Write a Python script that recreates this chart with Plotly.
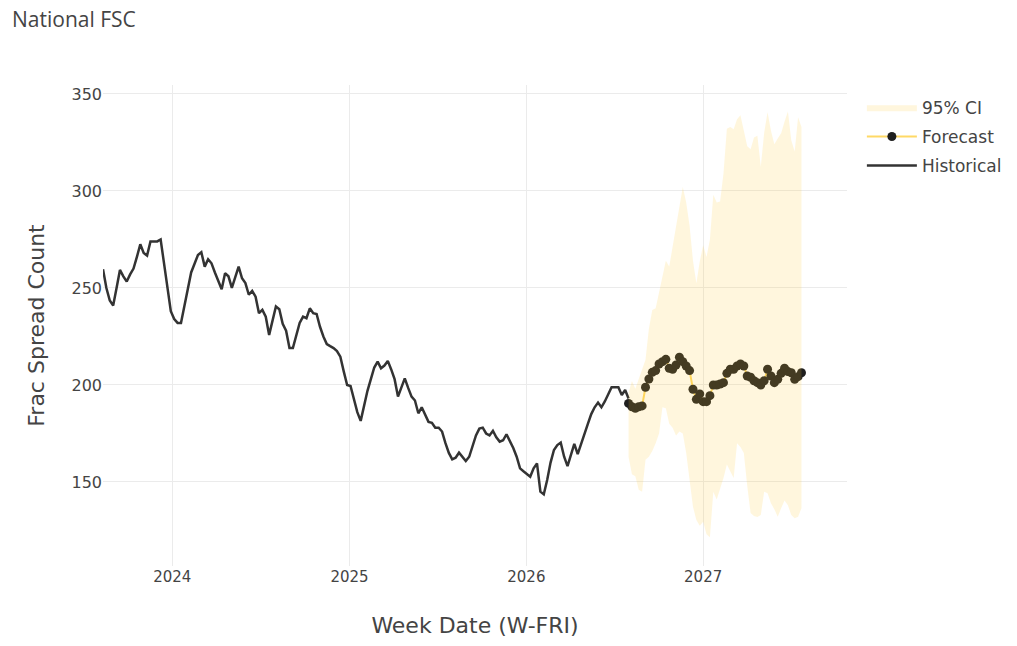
import pandas as pd
import plotly.graph_objects as go

# ── Data ──────────────────────────────────────────────────────────────────────

HIST_START = '2023-08-11'
FCST_START = '2026-07-31'

hist_values = [
    259.6, 250.0, 243.5, 241.0, 250.0, 259.3, 256.0, 253.3, 257.0, 260.0,
    266.0, 272.5, 268.0, 266.7, 273.9, 274.0, 274.0, 275.0, 262.0, 250.0,
    238.0, 234.0, 232.0, 232.0, 241.0, 250.0, 258.0, 262.5, 267.0, 268.4,
    261.0, 264.8, 262.7, 258.0, 254.0, 249.3, 257.6, 256.0, 250.0, 255.0,
    261.0, 255.0, 252.5, 246.5, 248.5, 245.5, 237.0, 238.7, 235.2, 225.8,
    233.0, 240.4, 239.0, 231.5, 228.0, 219.0, 219.0, 226.0, 232.0, 235.2,
    234.4, 239.5, 237.0, 236.6, 230.0, 225.0, 221.1, 220.0, 219.0, 217.5,
    214.6, 207.0, 200.0, 199.5, 193.0, 186.0, 181.5, 190.0, 197.0, 203.0,
    209.0, 212.0, 208.6, 210.0, 212.4, 208.0, 203.0, 194.0, 199.0, 203.4,
    198.5, 194.0, 192.0, 185.4, 188.5, 185.0, 181.0, 180.5, 178.0, 178.0,
    176.0, 170.0, 165.0, 161.7, 162.5, 165.1, 163.0, 160.8, 163.0, 168.5,
    174.0, 177.5, 178.0, 175.0, 174.0, 176.4, 173.0, 170.8, 171.5, 174.6,
    171.0, 167.5, 163.0, 157.0, 155.5, 154.0, 152.7, 157.0, 159.6, 145.0,
    143.6, 151.0, 160.0, 166.5, 169.0, 170.3, 163.0, 158.2, 164.0, 169.6,
    164.4, 170.0, 175.0, 180.0, 185.0, 188.5, 190.9, 188.5, 191.5, 195.5,
    198.8, 198.8, 198.8, 194.8, 197.4, 193.0,
]

fcst_values = [
    190.5, 188.8, 188.0, 188.8, 189.2, 198.8, 203.1, 206.5, 207.4, 210.8,
    212.0, 213.2, 208.6, 208.1, 210.3, 214.3, 212.0, 209.8, 207.4, 197.8,
    192.6, 195.4, 191.4, 191.4, 194.5, 200.0, 200.0, 200.5, 201.2, 206.0,
    208.1, 208.1, 209.8, 210.8, 209.8, 204.6, 204.0, 202.2, 201.2, 200.0,
    202.2, 208.1, 204.6, 201.2, 202.9, 206.0, 208.6, 206.9, 206.3, 202.9,
    204.3, 206.3,
]

ci_upper = [
    196.0, 202.0, 198.0, 203.0, 208.0, 213.0, 229.0, 238.7, 239.5, 248.0,
    255.0, 264.0, 261.0, 271.0, 281.0, 292.0, 302.0, 294.0, 282.0, 264.0,
    252.4, 263.6, 272.0, 266.0, 275.0, 298.0, 294.0, 294.5, 309.0, 332.0,
    333.0, 331.8, 337.0, 339.0, 331.0, 323.0, 321.5, 327.5, 328.5, 312.5,
    330.0, 340.5, 331.0, 324.0, 327.0, 329.7, 335.7, 341.0, 326.0, 320.3,
    338.0, 333.0,
]

ci_lower = [
    163.0, 154.0, 153.0, 146.0, 145.0, 161.5, 163.0, 166.0, 170.0, 175.0,
    188.5, 188.0, 180.0, 178.0, 174.0, 176.0, 175.0, 165.0, 152.0, 137.3,
    130.4, 127.5, 129.5, 123.0, 121.5, 145.0, 141.0, 147.0, 152.0, 159.0,
    155.5, 152.0, 170.0, 168.0, 165.0, 148.0, 134.0, 132.5, 132.0, 133.0,
    145.0, 144.2, 139.0, 136.0, 132.1, 136.4, 140.5, 138.0, 133.0, 131.3,
    132.1, 136.4,
]

hist_dates = pd.date_range(HIST_START, periods=len(hist_values), freq='W-FRI')
fcst_dates = pd.date_range(FCST_START, periods=len(fcst_values), freq='W-FRI')

# ── Style ─────────────────────────────────────────────────────────────────────

FONT = 'Verdana, DejaVu Sans, sans-serif'
TEXT = '#444444'
GRID = '#EBEBEB'
CI_FILL = 'rgba(255, 204, 51, 0.17)'
FCST_LINE = '#FFD966'
HIST_LINE = '#333333'

fig = go.Figure()

# drawing order: historical, forecast, then the CI band on top
fig.add_trace(go.Scatter(
    x=hist_dates, y=hist_values,
    mode='lines',
    line=dict(color=HIST_LINE, width=2.5),
    name='Historical', legendgroup='hist', legendrank=3,
))

fig.add_trace(go.Scatter(
    x=fcst_dates, y=fcst_values,
    mode='lines+markers',
    line=dict(color=FCST_LINE, width=2),
    marker=dict(color='#1f1f1f', size=9),
    name='Forecast', legendgroup='fc', legendrank=2,
))

band_x = list(fcst_dates) + list(fcst_dates[::-1])
band_y = ci_upper + ci_lower[::-1]
fig.add_trace(go.Scatter(
    x=band_x, y=band_y,
    fill='toself', fillcolor=CI_FILL,
    line=dict(width=0, color='rgba(0,0,0,0)'),
    mode='lines', hoverinfo='skip',
    name='95% CI', legendgroup='ci', legendrank=1,
))

fig.update_layout(
    width=1017, height=646,
    paper_bgcolor='white', plot_bgcolor='white',
    margin=dict(l=95, r=178, t=77, b=88),
    title=dict(text='National FSC', xref='container', yref='container',
               x=0.004, y=0.982, xanchor='left', yanchor='middle',
               font=dict(family='Open Sans', size=21, color=TEXT)),
    font=dict(family=FONT, size=16, color=TEXT),
    legend=dict(font=dict(family=FONT, size=17, color=TEXT),
                x=1.02, y=0.99, yanchor='top', itemwidth=50,
                traceorder='grouped', tracegroupgap=4),
    showlegend=True,
)
fig.update_xaxes(
    range=['2023-08-11', '2027-10-25'],
    showgrid=True, gridcolor=GRID, zeroline=False, showline=False,
    dtick='M12', tick0='2024-01-01', tickformat='%Y',
    title=dict(text='Week Date (W-FRI)', standoff=32,
               font=dict(family=FONT, size=22, color=TEXT)),
    tickfont=dict(family=FONT, size=15, color=TEXT),
)
fig.update_yaxes(
    range=[106.7, 354.6],
    showgrid=True, gridcolor=GRID, zeroline=False, showline=False,
    dtick=50,
    title=dict(text='Frac Spread Count', standoff=20,
               font=dict(family=FONT, size=22, color=TEXT)),
    tickfont=dict(family=FONT, size=16, color=TEXT),
)

fig.write_html('out.html')
